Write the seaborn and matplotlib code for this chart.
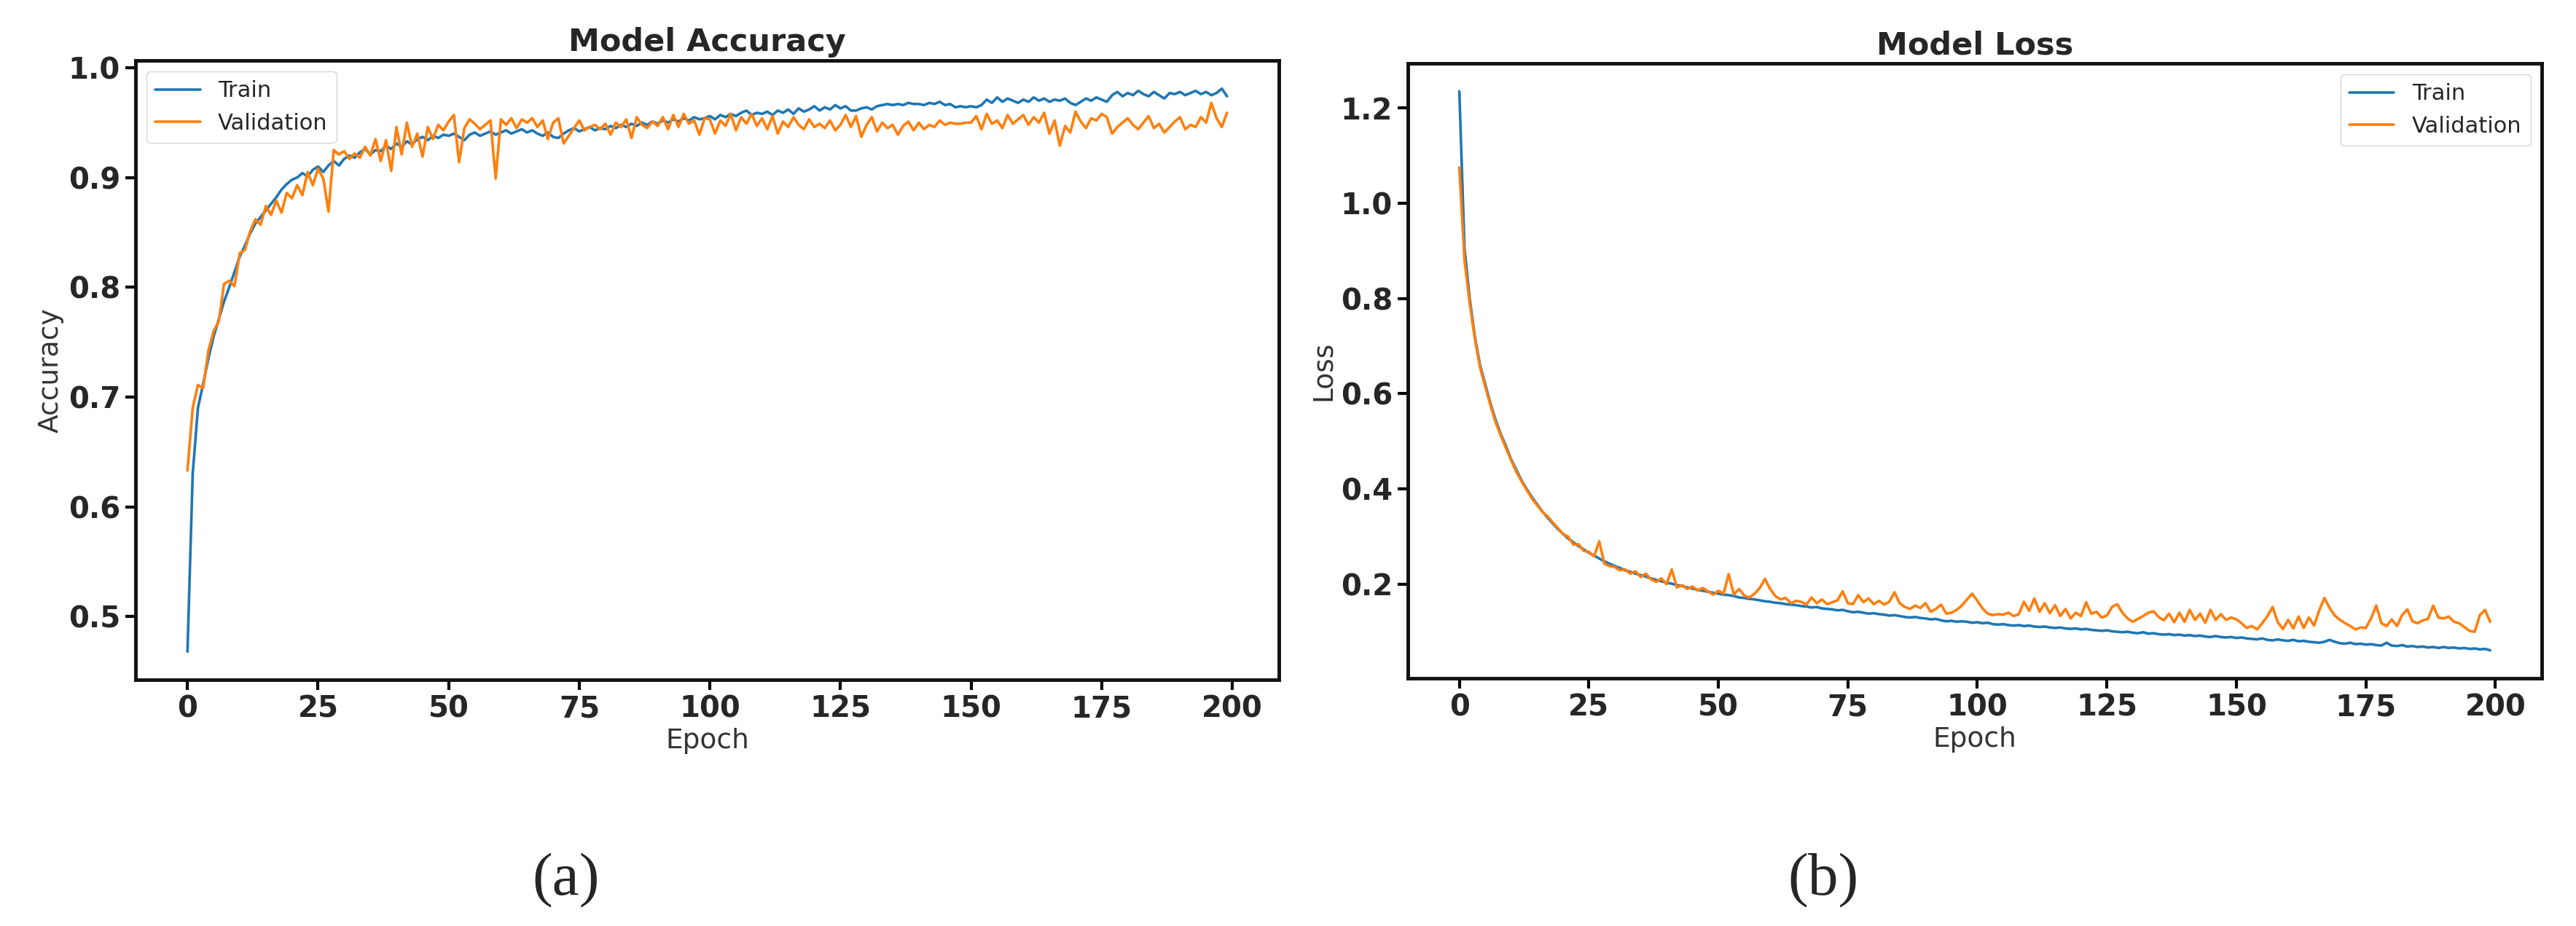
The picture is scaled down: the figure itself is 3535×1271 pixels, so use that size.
import pandas as pd
import seaborn as sns
import matplotlib.pyplot as plt
from matplotlib.ticker import MultipleLocator

# values, one per epoch (0..199)
train_acc = [
    0.468, 0.630, 0.690, 0.712, 0.735, 0.755, 0.771, 0.787, 0.800, 0.814,
    0.828, 0.838, 0.849, 0.858, 0.864, 0.870, 0.876, 0.882, 0.889, 0.894,
    0.898, 0.900, 0.904, 0.901, 0.907, 0.910, 0.905, 0.911, 0.915, 0.911,
    0.917, 0.920, 0.918, 0.923, 0.926, 0.921, 0.925, 0.924, 0.929, 0.926,
    0.931, 0.928, 0.933, 0.930, 0.935, 0.937, 0.934, 0.938, 0.936, 0.939,
    0.938, 0.940, 0.937, 0.934, 0.939, 0.941, 0.938, 0.940, 0.942, 0.939,
    0.941, 0.943, 0.940, 0.942, 0.944, 0.941, 0.943, 0.940, 0.938, 0.941,
    0.937, 0.936, 0.940, 0.943, 0.945, 0.942, 0.944, 0.946, 0.943, 0.945,
    0.944, 0.947, 0.945, 0.948, 0.946, 0.949, 0.947, 0.950, 0.948, 0.951,
    0.949, 0.952, 0.950, 0.953, 0.951, 0.954, 0.952, 0.955, 0.953, 0.954,
    0.956, 0.953, 0.957, 0.955, 0.958, 0.956, 0.959, 0.961, 0.957, 0.959,
    0.958, 0.960, 0.957, 0.961, 0.959, 0.962, 0.958, 0.963, 0.960, 0.962,
    0.965, 0.961, 0.964, 0.962, 0.966, 0.963, 0.965, 0.961, 0.961, 0.963,
    0.964, 0.962, 0.965, 0.966, 0.967, 0.966, 0.967, 0.966, 0.968, 0.967,
    0.967, 0.966, 0.968, 0.967, 0.969, 0.966, 0.967, 0.964, 0.965, 0.964,
    0.965, 0.964, 0.966, 0.971, 0.968, 0.973, 0.969, 0.972, 0.970, 0.968,
    0.971, 0.969, 0.973, 0.970, 0.972, 0.969, 0.971, 0.970, 0.972, 0.968,
    0.966, 0.969, 0.972, 0.970, 0.973, 0.971, 0.969, 0.975, 0.978, 0.974,
    0.977, 0.975, 0.979, 0.976, 0.974, 0.978, 0.975, 0.972, 0.977, 0.976,
    0.978, 0.975, 0.977, 0.979, 0.976, 0.978, 0.975, 0.977, 0.981, 0.974,
]
val_acc = [
    0.633, 0.690, 0.711, 0.708, 0.742, 0.760, 0.769, 0.803, 0.806, 0.801,
    0.831, 0.834, 0.851, 0.862, 0.857, 0.874, 0.866, 0.879, 0.868, 0.886,
    0.881, 0.893, 0.884, 0.905, 0.893, 0.908, 0.899, 0.869, 0.925, 0.921,
    0.924, 0.917, 0.922, 0.918, 0.928, 0.920, 0.935, 0.915, 0.934, 0.906,
    0.946, 0.921, 0.950, 0.928, 0.940, 0.919, 0.946, 0.935, 0.948, 0.943,
    0.951, 0.957, 0.914, 0.945, 0.953, 0.949, 0.944, 0.948, 0.952, 0.899,
    0.953, 0.948, 0.954, 0.945, 0.953, 0.950, 0.954, 0.946, 0.952, 0.935,
    0.950, 0.954, 0.931, 0.938, 0.945, 0.952, 0.943, 0.946, 0.948, 0.944,
    0.949, 0.939, 0.950, 0.946, 0.953, 0.936, 0.955, 0.948, 0.945, 0.951,
    0.947, 0.955, 0.944, 0.957, 0.946, 0.958, 0.949, 0.952, 0.939, 0.954,
    0.953, 0.940, 0.952, 0.947, 0.958, 0.943, 0.955, 0.949, 0.958, 0.947,
    0.954, 0.944, 0.956, 0.940, 0.951, 0.946, 0.955, 0.948, 0.944, 0.953,
    0.946, 0.949, 0.945, 0.952, 0.943, 0.948, 0.957, 0.946, 0.956, 0.937,
    0.948, 0.955, 0.942, 0.950, 0.945, 0.948, 0.939, 0.947, 0.951, 0.943,
    0.950, 0.944, 0.948, 0.946, 0.952, 0.948, 0.950, 0.949, 0.949, 0.950,
    0.950, 0.956, 0.944, 0.958, 0.949, 0.952, 0.945, 0.957, 0.949, 0.953,
    0.957, 0.948, 0.955, 0.950, 0.959, 0.940, 0.952, 0.929, 0.947, 0.941,
    0.960, 0.951, 0.945, 0.954, 0.952, 0.958, 0.955, 0.940, 0.946, 0.950,
    0.954, 0.948, 0.944, 0.950, 0.956, 0.945, 0.949, 0.941, 0.946, 0.951,
    0.955, 0.944, 0.948, 0.946, 0.955, 0.950, 0.968, 0.954, 0.946, 0.959,
]
train_loss = [
    1.235, 0.905, 0.800, 0.720, 0.660, 0.620, 0.580, 0.545, 0.515, 0.490,
    0.462, 0.440, 0.418, 0.400, 0.383, 0.368, 0.353, 0.340, 0.328, 0.316,
    0.306, 0.296, 0.288, 0.280, 0.273, 0.266, 0.260, 0.254, 0.248, 0.243,
    0.238, 0.234, 0.229, 0.226, 0.222, 0.219, 0.216, 0.212, 0.209, 0.206,
    0.203, 0.201, 0.198, 0.196, 0.193, 0.191, 0.188, 0.186, 0.184, 0.182,
    0.180, 0.178, 0.177, 0.175, 0.172, 0.171, 0.169, 0.168, 0.166, 0.164,
    0.163, 0.161, 0.160, 0.158, 0.157, 0.156, 0.154, 0.153, 0.151, 0.152,
    0.149, 0.148, 0.147, 0.145, 0.146, 0.143, 0.141, 0.142, 0.140, 0.138,
    0.139, 0.137, 0.136, 0.134, 0.135, 0.133, 0.131, 0.130, 0.131, 0.129,
    0.128, 0.126, 0.127, 0.124, 0.122, 0.123, 0.121, 0.122, 0.121, 0.119,
    0.120, 0.118, 0.119, 0.116, 0.115, 0.116, 0.114, 0.113, 0.114, 0.112,
    0.113, 0.111, 0.110, 0.111, 0.109, 0.108, 0.109, 0.107, 0.106, 0.107,
    0.105, 0.106, 0.104, 0.103, 0.102, 0.103, 0.101, 0.100, 0.099, 0.100,
    0.098, 0.097, 0.099, 0.096, 0.097, 0.095, 0.094, 0.095, 0.093, 0.094,
    0.092, 0.093, 0.091, 0.092, 0.090, 0.089, 0.091, 0.089, 0.088, 0.089,
    0.087, 0.088, 0.086, 0.085, 0.084, 0.086, 0.083, 0.082, 0.084, 0.082,
    0.081, 0.083, 0.080, 0.081, 0.079, 0.078, 0.077, 0.079, 0.083, 0.079,
    0.076, 0.075, 0.077, 0.074, 0.075, 0.073, 0.074, 0.072, 0.071, 0.077,
    0.071, 0.070, 0.072, 0.069, 0.070, 0.068, 0.069, 0.067, 0.068, 0.066,
    0.068, 0.066, 0.067, 0.065, 0.066, 0.064, 0.065, 0.063, 0.064, 0.061,
]
val_loss = [
    1.075, 0.880, 0.790, 0.715, 0.655, 0.615, 0.576, 0.540, 0.512, 0.486,
    0.460, 0.436, 0.416, 0.398, 0.380, 0.366, 0.352, 0.343, 0.330, 0.318,
    0.305, 0.300, 0.283, 0.284, 0.270, 0.268, 0.258, 0.290, 0.243, 0.238,
    0.236, 0.229, 0.231, 0.222, 0.227, 0.215, 0.222, 0.210, 0.205, 0.212,
    0.200, 0.231, 0.193, 0.198, 0.190, 0.195, 0.187, 0.192, 0.185, 0.178,
    0.186, 0.180, 0.221, 0.178, 0.190, 0.176, 0.172, 0.180, 0.192, 0.211,
    0.190, 0.175, 0.168, 0.171, 0.160, 0.165, 0.163, 0.157, 0.172, 0.160,
    0.168, 0.158, 0.162, 0.166, 0.185, 0.160, 0.158, 0.177, 0.162, 0.170,
    0.158, 0.165, 0.157, 0.163, 0.183, 0.160, 0.152, 0.148, 0.155, 0.150,
    0.160, 0.142, 0.148, 0.157, 0.138, 0.140, 0.146, 0.155, 0.168, 0.180,
    0.165, 0.149, 0.138, 0.135, 0.137, 0.136, 0.140, 0.133, 0.137, 0.163,
    0.144, 0.170, 0.142, 0.160, 0.139, 0.156, 0.133, 0.148, 0.128, 0.140,
    0.133, 0.162, 0.138, 0.142, 0.130, 0.134, 0.152, 0.158, 0.140, 0.128,
    0.121, 0.127, 0.133, 0.140, 0.143, 0.131, 0.124, 0.138, 0.120, 0.140,
    0.121, 0.146, 0.125, 0.138, 0.119, 0.146, 0.125, 0.137, 0.125, 0.130,
    0.126, 0.118, 0.108, 0.112, 0.105, 0.118, 0.133, 0.152, 0.120, 0.106,
    0.125, 0.107, 0.132, 0.108, 0.130, 0.113, 0.145, 0.171, 0.150, 0.134,
    0.125, 0.118, 0.112, 0.105, 0.109, 0.108, 0.128, 0.155, 0.118, 0.112,
    0.126, 0.112, 0.135, 0.147, 0.122, 0.118, 0.124, 0.127, 0.155, 0.130,
    0.128, 0.132, 0.121, 0.118, 0.110, 0.102, 0.100, 0.135, 0.146, 0.121,
]
epochs = list(range(len(train_acc)))
labels = ['Train', 'Validation']
colors = ['#1f77b4', '#ff7f0e']

sns.set_style('ticks')
plt.rcParams['font.family'] = ['DejaVu Sans']

n = len(epochs)
df_acc = pd.DataFrame({'Epoch': epochs * 2, 'value': train_acc + val_acc,
                       'set': [labels[0]] * n + [labels[1]] * n})
df_loss = pd.DataFrame({'Epoch': epochs * 2, 'value': train_loss + val_loss,
                        'set': [labels[0]] * n + [labels[1]] * n})

fig = plt.figure(figsize=(35.35, 12.71), dpi=100)
ax1 = fig.add_axes([0.0526, 0.2659, 0.4439, 0.6688])
ax2 = fig.add_axes([0.5465, 0.2675, 0.4402, 0.6641])

panels = [
    (ax1, df_acc, 'Model Accuracy', 'Accuracy', 0.1, 'upper left', '(a)', 777),
    (ax2, df_loss, 'Model Loss', 'Loss', 0.2, 'upper right', '(b)', 2502),
]
for ax, df, title, ylab, ystep, loc, tag, tag_x in panels:
    sns.lineplot(data=df, x='Epoch', y='value', hue='set', palette=colors,
                 linewidth=2.6, ax=ax)
    ax.set_title(title, fontsize=31, fontweight='bold', pad=9)
    ax.set_xlabel('Epoch', fontsize=27, color='#333333')
    ax.set_ylabel(ylab, fontsize=27, color='#333333')
    ax.xaxis.set_major_locator(MultipleLocator(25))
    ax.yaxis.set_major_locator(MultipleLocator(ystep))
    ax.tick_params(length=10, width=3, labelsize=29, pad=5, color='black')
    plt.setp(ax.get_xticklabels() + ax.get_yticklabels(), fontweight='bold')
    for sp in ax.spines.values():
        sp.set_visible(True)
        sp.set_linewidth(3.5)
        sp.set_color('#111111')
    sns.move_legend(ax, loc, title=None, fontsize=22, frameon=True)
    fig.text(tag_x / 3535, 1 - 1209 / 1271, tag, ha='center', va='center',
             fontsize=60, family='Liberation Serif')

fig.savefig('out.png', dpi=100, facecolor='white')
